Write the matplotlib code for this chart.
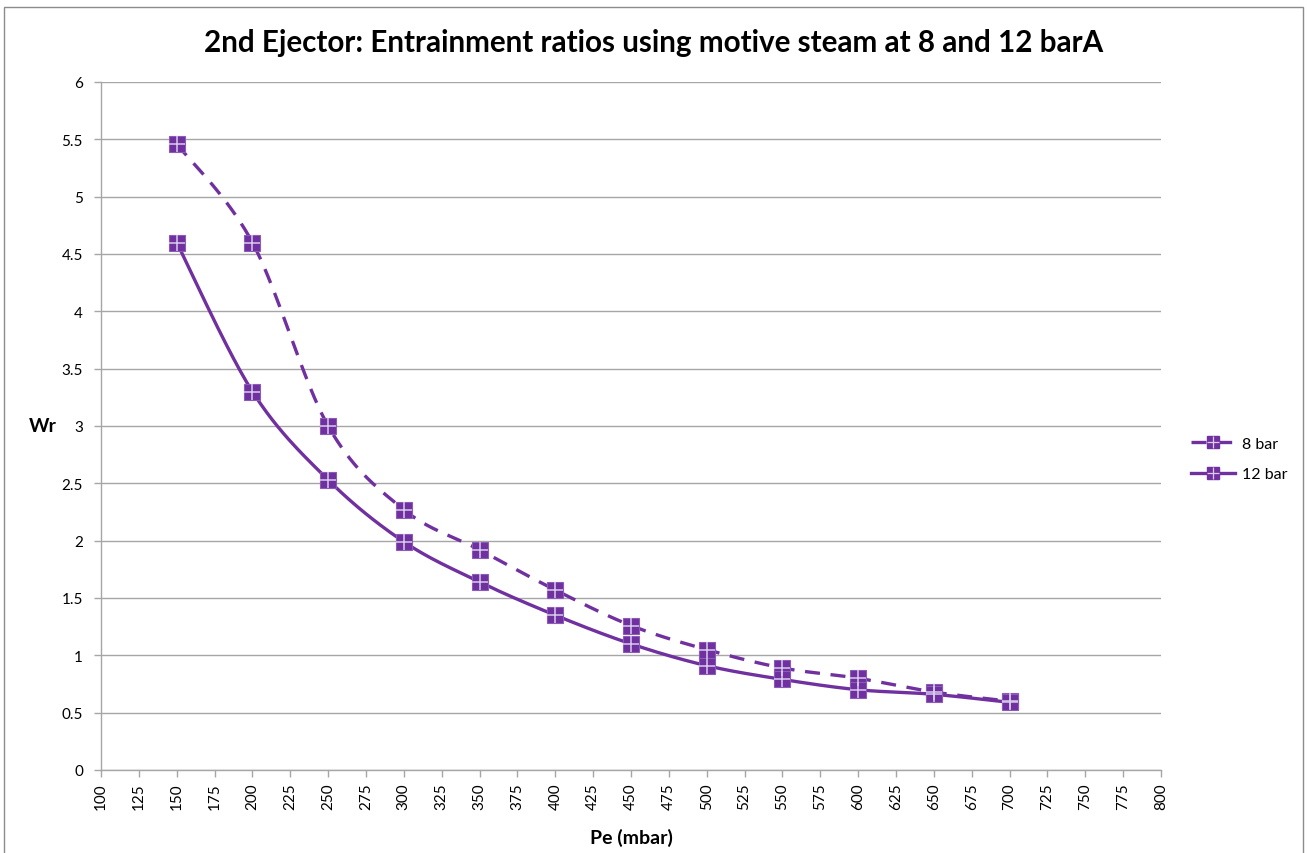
import numpy as np
import matplotlib
matplotlib.use("Agg")
import matplotlib.pyplot as plt
from matplotlib.patches import Rectangle
from matplotlib.lines import Line2D
from matplotlib.legend_handler import HandlerTuple

plt.rcParams['font.family'] = ['Lato', 'DejaVu Sans']

pe = [150, 200, 250, 300, 350, 400, 450, 500, 550, 600, 650, 700]
wr_8bar = [5.46, 4.60, 3.00, 2.27, 1.92, 1.57, 1.26, 1.05, 0.89, 0.80, 0.68, 0.60]
wr_12bar = [4.60, 3.30, 2.53, 1.99, 1.64, 1.35, 1.10, 0.91, 0.79, 0.70, 0.66, 0.59]

x_ticks = list(range(100, 801, 25))
y_ticks = [0, 0.5, 1, 1.5, 2, 2.5, 3, 3.5, 4, 4.5, 5, 5.5, 6]

PURPLE = '#7030A0'
CROSS = '#D8CCEB'
GRID = '#A6A6A6'


def smooth(xs, ys, n=40):
    """Cubic Bezier smoothing through every point (Catmull-Rom tangents)."""
    p = np.column_stack([xs, ys]).astype(float)
    out = []
    for i in range(len(p) - 1):
        p0 = p[i - 1] if i > 0 else p[i]
        p1, p2 = p[i], p[i + 1]
        p3 = p[i + 2] if i + 2 < len(p) else p[i + 1]
        c1 = p1 + (p2 - p0) / 6.0
        c2 = p2 - (p3 - p1) / 6.0
        t = np.linspace(0, 1, n)[:, None]
        seg = ((1 - t) ** 3) * p1 + 3 * ((1 - t) ** 2) * t * c1 + 3 * (1 - t) * t ** 2 * c2 + t ** 3 * p2
        out.append(seg if i == 0 else seg[1:])
    seg = np.vstack(out)
    return seg[:, 0], seg[:, 1]


fig = plt.figure(figsize=(13.07, 8.54), dpi=100)
fig.patches.append(Rectangle((4 / 1307, -0.01), 1 - 8 / 1307, 1 - 8 / 854 + 0.01,
                             transform=fig.transFigure, fill=False,
                             edgecolor='#8C8C8C', linewidth=1.0))

ax = fig.add_axes([101 / 1307, 1 - 771 / 854, (1161 - 101) / 1307, (771 - 83) / 854])

series = [
    ("8 bar", wr_8bar, (0, (4.5, 3.2))),
    ("12 bar", wr_12bar, '-'),
]
handles = []
for label, ys, ls in series:
    sx, sy = smooth(pe, ys)
    ax.plot(sx, sy, color=PURPLE, linewidth=2.4, linestyle=ls, zorder=3,
            solid_capstyle='butt', dash_capstyle='butt')
    ax.plot(pe, ys, linestyle='none', marker='s', markersize=11.5,
            markerfacecolor=PURPLE, markeredgecolor='#8A5CB8', markeredgewidth=0.8, zorder=4)
    ax.plot(pe, ys, linestyle='none', marker='+', markersize=11.5,
            markeredgecolor=CROSS, markeredgewidth=1.1, zorder=5)
    h_line = Line2D([], [], color=PURPLE, linewidth=2.4, linestyle=ls,
                    marker='s', markersize=8, markerfacecolor=PURPLE,
                    markeredgecolor=PURPLE)
    h_cross = Line2D([], [], linestyle='none', marker='+', markersize=8,
                     markeredgecolor=CROSS, markeredgewidth=0.9)
    handles.append(((h_line, h_cross), label))

ax.set_xlim(100, 800)
ax.set_ylim(0, 6)
ax.set_xticks(x_ticks)
ax.set_xticklabels([str(v) for v in x_ticks], rotation=90, fontsize=11)
ax.set_yticks(y_ticks)
ax.set_yticklabels([f"{v:g}" for v in y_ticks], fontsize=11)
ax.yaxis.grid(True, color=GRID, linewidth=1.0)
ax.set_axisbelow(True)
for side in ('top', 'right'):
    ax.spines[side].set_visible(False)
for side in ('left', 'bottom'):
    ax.spines[side].set_color(GRID)
    ax.spines[side].set_linewidth(1.0)
ax.tick_params(axis='both', direction='out', length=5, color=GRID, width=1.0,
               labelcolor='#000000')
ax.tick_params(axis='y', pad=8)
ax.tick_params(axis='x', pad=4)

fig.text(654 / 1307, 1 - 43 / 854,
         "2nd Ejector: Entrainment ratios using motive steam at 8 and 12 barA",
         fontsize=21.3, fontweight='bold', ha='center', va='center')
fig.text(43 / 1307, 1 - 427 / 854, "Wr", fontsize=14, fontweight='bold',
         ha='center', va='center')
fig.text(631 / 1307, 1 - 838 / 854, "Pe (mbar)", fontsize=14, fontweight='bold',
         ha='center', va='center')

leg = fig.legend([h for h, _ in handles], [l for _, l in handles],
                 handler_map={tuple: HandlerTuple(ndivide=1, pad=0)},
                 loc='center left', bbox_to_anchor=(1177 / 1307, 1 - 460 / 854),
                 frameon=False, fontsize=11.5, handlelength=2.7, handletextpad=0.5,
                 labelspacing=1.0)

fig.savefig("out.png", dpi=100)
